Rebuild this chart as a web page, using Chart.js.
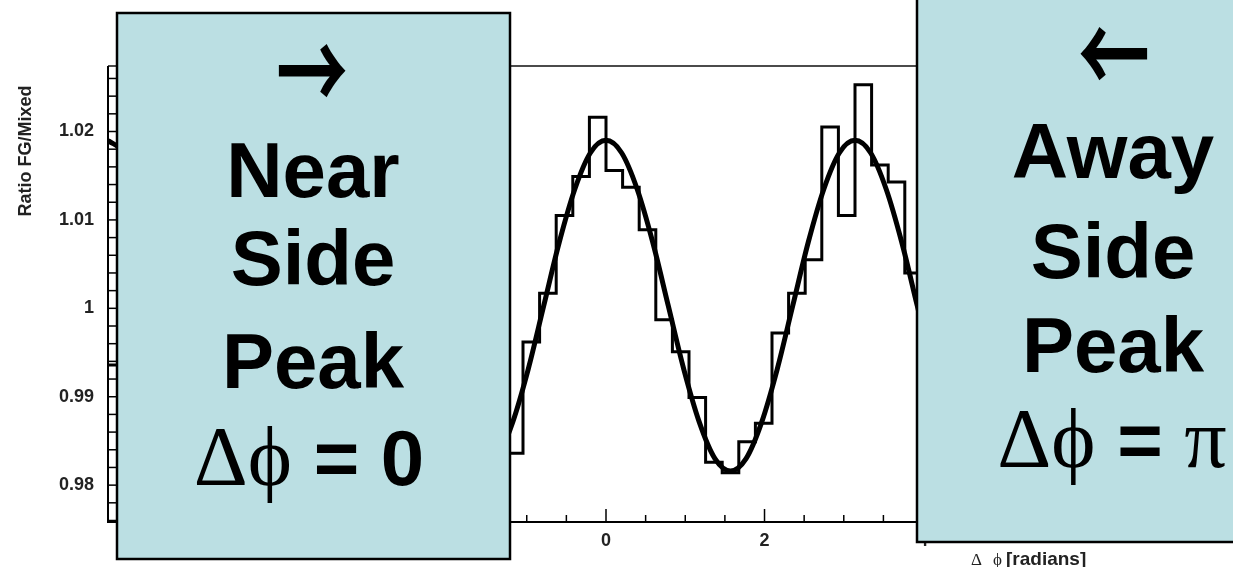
<!DOCTYPE html>
<html>
<head>
<meta charset="utf-8">
<script src="https://cdn.jsdelivr.net/npm/chart.js@4.4.0/dist/chart.umd.min.js"></script>
<style>
html,body{margin:0;padding:0;background:#ffffff;overflow:hidden}
#wrap{width:1233px;height:567px;position:relative}
</style>
</head>
<body>
<div id="wrap"><canvas id="c" width="1233" height="567"></canvas></div>
<script>
// ---------------- data ----------------
const binWidth = Math.PI / 15;              // histogram bin width (radians)
const histBinIndex = [-30, -6, -5, -4, -3, -2, -1, 0, 1, 2, 3, 4, 5, 6, 7, 8, 9, 10, 11, 12, 13, 14, 15, 16, 17, 18];
const histValues   = [0.9936, 0.9836, 0.9962, 1.0017, 1.0105, 1.0149, 1.0216, 1.0156, 1.0137, 1.0089, 0.9987, 0.9951, 0.9899, 0.9826, 0.9814, 0.9849, 0.9870, 0.9972, 1.0017, 1.0055, 1.0205, 1.0105, 1.0253, 1.0162, 1.0143, 1.0040];

const fitStep = Math.PI / 16;               // spacing of the fit samples (radians)
const fitFirstIndex = -32;
const fitValues = [
  1.0190,1.0176,1.0135,1.0075,1.0003,0.9931,0.9871,0.9830,0.9816,0.9830,0.9871,0.9931,1.0003,1.0075,1.0135,1.0176,
  1.0190,1.0176,1.0135,1.0075,1.0003,0.9931,0.9871,0.9830,0.9816,0.9830,0.9871,0.9931,1.0003,1.0075,1.0135,1.0176,
  1.0190,1.0176,1.0135,1.0075,1.0003,0.9931,0.9871,0.9830,0.9816,0.9830,0.9871,0.9931,1.0003,1.0075,1.0135,1.0176,
  1.0190,1.0176,1.0135,1.0075,1.0003,0.9931,0.9871,0.9830,0.9816,0.9830,0.9871,0.9931,1.0003,1.0075,1.0135,1.0176,
  1.0190
];

const xRange = [-2 * Math.PI, 2 * Math.PI];
const yRange = [0.97583, 1.02741];
const xTickValues = [-6, -4, -2, 0, 2, 4];
const xTickLabels = ['-6', '-4', '-2', '0', '2', '4'];
const yTickValues = [0.98, 0.99, 1.00, 1.01, 1.02];
const yTickLabels = ['0.98', '0.99', '1', '1.01', '1.02'];

const xTitleParts = ['\u0394', '\u03D5', '[radians]'];
const yTitle = 'Ratio FG/Mixed';
const nearArrow = '\u2192';
const nearWords = ['Near', 'Side', 'Peak'];
const nearLast  = ['\u0394', '\u03D5', ' = 0'];
const awayArrow = '\u2190';
const awayWords = ['Away', 'Side', 'Peak'];
const awayLast  = ['\u0394', '\u03D5', ' = ', '\u03C0'];

// ---------------- build library tables ----------------
const histPoints = [];
histBinIndex.forEach((k, i) => {
  const lo = k * binWidth, hi = (k + 1) * binWidth;
  if (i > 0 && histBinIndex[i - 1] !== k - 1) histPoints.push({x: lo, y: null});
  histPoints.push({x: lo, y: histValues[i]});
  if (histBinIndex[i + 1] !== k + 1) histPoints.push({x: hi, y: histValues[i]});
});
const fitPoints = fitValues.map((v, i) => ({x: (fitFirstIndex + i) * fitStep, y: v}));

const SANS = '"Liberation Sans", Arial, Helvetica, sans-serif';
const SERIF = '"Liberation Serif", "Times New Roman", serif';
const BOXFILL = '#bbdfe3';

function drawSegments(ctx, segs, cx, baseline) {
  let total = 0;
  segs.forEach(s => { ctx.font = s.font; s.w = ctx.measureText(s.t).width; total += s.w; });
  let x = cx - total / 2;
  ctx.textAlign = 'left'; ctx.textBaseline = 'alphabetic';
  segs.forEach(s => { ctx.font = s.font; ctx.fillText(s.t, x, baseline); x += s.w; });
}
function drawGlyphFit(ctx, t, family, weight, cx, cy, inkW, sy) {
  ctx.font = weight + ' 100px ' + family;
  let m = ctx.measureText(t);
  const size = 100 * inkW / (m.actualBoundingBoxRight + m.actualBoundingBoxLeft);
  ctx.font = weight + ' ' + size.toFixed(1) + 'px ' + family;
  m = ctx.measureText(t);
  const w = m.actualBoundingBoxRight + m.actualBoundingBoxLeft;
  ctx.save();
  ctx.translate(cx, cy);
  ctx.scale(1, sy);
  ctx.textAlign = 'left'; ctx.textBaseline = 'alphabetic';
  ctx.fillText(t, -w / 2 + m.actualBoundingBoxLeft, (m.actualBoundingBoxAscent - m.actualBoundingBoxDescent) / 2);
  ctx.restore();
}

const decor = {
  id: 'decor',
  afterDatasetsDraw(chart) {
    const {ctx, chartArea: a, scales: {x, y}} = chart;
    ctx.save();
    // frame
    ctx.strokeStyle = '#111';
    ctx.lineWidth = 1.5;
    ctx.beginPath(); ctx.moveTo(a.left, a.top); ctx.lineTo(a.right, a.top); ctx.lineTo(a.right, a.bottom); ctx.stroke();
    ctx.strokeStyle = '#000';
    ctx.lineWidth = 2;
    ctx.beginPath(); ctx.moveTo(a.left, a.top); ctx.lineTo(a.left, a.bottom); ctx.lineTo(a.right, a.bottom); ctx.stroke();
    // x ticks (inside, ROOT style)
    ctx.lineWidth = 1.5;
    for (let i = -12; i <= 12; i++) {
      const v = i * 0.5;
      if (v < xRange[0] || v > xRange[1]) continue;
      const px = x.getPixelForValue(v);
      const len = (i % 4 === 0) ? 13 : 7;
      ctx.beginPath(); ctx.moveTo(px, a.bottom); ctx.lineTo(px, a.bottom - len); ctx.stroke();
    }
    // y ticks
    for (let i = 488; i <= 513; i++) {
      const v = i * 0.002;
      const py = y.getPixelForValue(v);
      const len = (i % 5 === 0) ? 20 : 12;
      ctx.beginPath(); ctx.moveTo(a.left, py); ctx.lineTo(a.left + len, py); ctx.stroke();
    }
    // axis titles
    ctx.fillStyle = '#222';
    ctx.save();
    ctx.translate(26, 151);
    ctx.rotate(-Math.PI / 2);
    ctx.font = 'bold 18px ' + SANS;
    ctx.textAlign = 'center'; ctx.textBaseline = 'middle';
    ctx.fillText(yTitle, 0, 0);
    ctx.restore();
    ctx.textBaseline = 'alphabetic'; ctx.textAlign = 'left';
    ctx.font = '17px ' + SERIF;
    ctx.fillText(xTitleParts[0], 971, 565);
    ctx.fillText(xTitleParts[1], 993, 565);
    ctx.font = 'bold 19px ' + SANS;
    ctx.fillText(xTitleParts[2], 1006, 565);
    ctx.restore();
  },
  afterDraw(chart) {
    const ctx = chart.ctx;
    ctx.save();
    // near-side box
    ctx.fillStyle = BOXFILL; ctx.strokeStyle = '#000'; ctx.lineWidth = 2.5;
    ctx.fillRect(117, 13, 393, 546); ctx.strokeRect(117, 13, 393, 546);
    // away-side box
    ctx.fillRect(917, -10, 340, 552); ctx.strokeRect(917, -10, 340, 552);
    ctx.fillStyle = '#000';
    const arrowFamily = '"Noto Sans CJK JP", "DejaVu Sans", sans-serif';
    drawGlyphFit(ctx, nearArrow, arrowFamily, 'bold', 312, 71, 67, 1.55);
    drawGlyphFit(ctx, awayArrow, arrowFamily, 'bold', 1114, 54, 67, 1.55);
    const big = 'bold 78px ' + SANS;
    const nearBase = [197, 285, 388];
    nearWords.forEach((w, i) => drawSegments(ctx, [{t: w, font: big}], 313, nearBase[i]));
    drawSegments(ctx, [
      {t: nearLast[0], font: '84px ' + SERIF},
      {t: nearLast[1], font: '84px ' + SERIF},
      {t: nearLast[2], font: big}], 309, 485);
    const awayBase = [178, 278, 372];
    awayWords.forEach((w, i) => drawSegments(ctx, [{t: w, font: big}], 1113, awayBase[i]));
    drawSegments(ctx, [
      {t: awayLast[0], font: '84px ' + SERIF},
      {t: awayLast[1], font: '84px ' + SERIF},
      {t: awayLast[2], font: big},
      {t: awayLast[3], font: '84px ' + SERIF}], 1112, 467);
    ctx.restore();
  }
};

new Chart(document.getElementById('c'), {
  type: 'line',
  data: {
    datasets: [
      {label: 'histogram', data: histPoints, stepped: 'before', borderColor: '#000', borderWidth: 3,
       pointRadius: 0, fill: false, spanGaps: false, order: 2},
      {label: 'fit', data: fitPoints, borderColor: '#000', borderWidth: 5, pointRadius: 0, fill: false,
       cubicInterpolationMode: 'monotone', order: 1}
    ]
  },
  options: {
    responsive: false,
    animation: false,
    devicePixelRatio: 1,
    layout: {padding: {top: 66, right: 129, left: 0, bottom: 0}},
    plugins: {legend: {display: false}, tooltip: {enabled: false}, title: {display: false}},
    scales: {
      x: {
        type: 'linear', min: xRange[0], max: xRange[1],
        afterFit(s) { s.height = 45; },
        afterBuildTicks(s) { s.ticks = xTickValues.map(v => ({value: v})); },
        grid: {display: false, drawTicks: false},
        border: {display: false},
        ticks: {
          callback: (v, i) => xTickLabels[i],
          font: {family: SANS, size: 18, weight: 'bold'}, color: '#222', padding: 8, maxRotation: 0, autoSkip: false
        }
      },
      y: {
        type: 'linear', min: yRange[0], max: yRange[1],
        afterFit(s) { s.width = 108; },
        afterBuildTicks(s) { s.ticks = yTickValues.map(v => ({value: v})); },
        grid: {display: false, drawTicks: false},
        border: {display: false},
        ticks: {
          callback: (v, i) => yTickLabels[i],
          font: {family: SANS, size: 18, weight: 'bold'}, color: '#222', padding: 14, autoSkip: false
        }
      }
    }
  },
  plugins: [decor]
});
</script>
</body>
</html>
